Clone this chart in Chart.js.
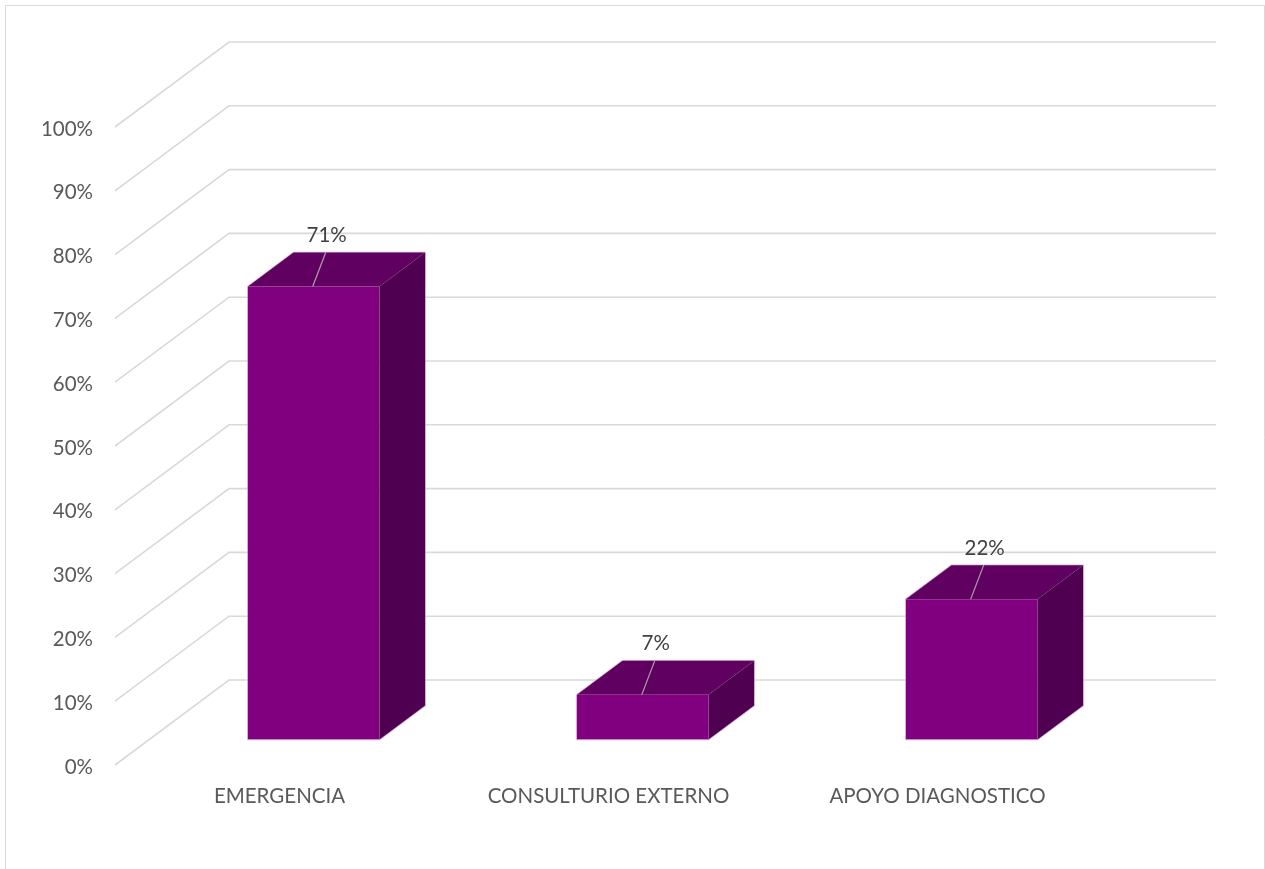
<!DOCTYPE html>
<html>
<head>
<meta charset="utf-8">
<script src="https://cdn.jsdelivr.net/npm/chart.js@4/dist/chart.umd.min.js"></script>
<style>
  html, body { margin: 0; padding: 0; background: #ffffff; overflow: hidden; }
  #wrap { position: relative; width: 1265px; height: 869px; }
</style>
</head>
<body>
<div id="wrap"><canvas id="chart"></canvas></div>
<script>
// Share of cases by service
const categories = ['EMERGENCIA', 'CONSULTURIO EXTERNO', 'APOYO DIAGNOSTICO'];
const percentages = [71, 7, 22];
const valueLabels = ['71%', '7%', '22%'];
const tickValues = [0, 10, 20, 30, 40, 50, 60, 70, 80, 90, 100];

// Oblique projection of the 3-D box: offset from the front plane to the back wall,
// and the depth slab (fractions of that offset) the columns occupy.
const WALL = { dx: 114, dy: -85 };
const SLAB_FRONT = 0.30;
const SLAB_BACK = 0.70;

const COLORS = {
  front: '#800080',
  top: '#600060',
  side: '#500050',
  edge: 'rgba(205, 160, 205, 0.75)',
  grid: '#d9d9d9',
  border: '#d9d9d9',
  tick: '#595959',
  label: '#404040',
  leader: '#a6a6a6'
};
const FONT_FAMILY = 'Lato, "Open Sans", sans-serif';

const frontOff = { x: WALL.dx * SLAB_FRONT, y: WALL.dy * SLAB_FRONT };
const depthOff = { x: WALL.dx * (SLAB_BACK - SLAB_FRONT), y: WALL.dy * (SLAB_BACK - SLAB_FRONT) };

const box3d = {
  id: 'box3d',
  beforeDraw(chart) {
    const { ctx, chartArea, scales } = chart;
    const y = scales.y;
    ctx.save();
    // outer frame
    ctx.strokeStyle = COLORS.border;
    ctx.lineWidth = 1;
    ctx.beginPath();
    ctx.moveTo(5.5, 880);
    ctx.lineTo(5.5, 5.5);
    ctx.lineTo(1264.5, 5.5);
    ctx.lineTo(1264.5, 880);
    ctx.stroke();
    // gridlines: along the side wall, then across the back wall
    ctx.strokeStyle = COLORS.grid;
    ctx.lineWidth = 1.6;
    tickValues.forEach(v => {
      const py = y.getPixelForValue(v);
      ctx.beginPath();
      ctx.moveTo(chartArea.left, py);
      ctx.lineTo(chartArea.left + WALL.dx, py + WALL.dy);
      ctx.lineTo(chartArea.right + WALL.dx, py + WALL.dy);
      ctx.stroke();
    });
    ctx.restore();
  },
  beforeDatasetsDraw(chart) {
    const { ctx } = chart;
    ctx.save();
    ctx.translate(frontOff.x, frontOff.y);
    chart.getDatasetMeta(0).data.forEach(bar => {
      const l = bar.x - bar.width / 2, r = bar.x + bar.width / 2;
      const t = bar.y, b = bar.base;
      // faint light rim around the column's outline
      ctx.strokeStyle = COLORS.edge;
      ctx.lineWidth = 1.5;
      ctx.beginPath();
      ctx.moveTo(l, b);
      ctx.lineTo(l, t);
      ctx.lineTo(l + depthOff.x, t + depthOff.y);
      ctx.lineTo(r + depthOff.x, t + depthOff.y);
      ctx.lineTo(r + depthOff.x, b + depthOff.y);
      ctx.lineTo(r, b);
      ctx.closePath();
      ctx.stroke();
      // top face
      ctx.fillStyle = COLORS.top;
      ctx.beginPath();
      ctx.moveTo(l, t);
      ctx.lineTo(r, t);
      ctx.lineTo(r + depthOff.x, t + depthOff.y);
      ctx.lineTo(l + depthOff.x, t + depthOff.y);
      ctx.closePath();
      ctx.fill();
      // right side face
      ctx.fillStyle = COLORS.side;
      ctx.beginPath();
      ctx.moveTo(r, t);
      ctx.lineTo(r + depthOff.x, t + depthOff.y);
      ctx.lineTo(r + depthOff.x, b + depthOff.y);
      ctx.lineTo(r, b);
      ctx.closePath();
      ctx.fill();
    });
  },
  afterDatasetsDraw(chart) {
    const { ctx } = chart;
    // still translated to the front of the slab: leader lines and value labels
    chart.getDatasetMeta(0).data.forEach((bar, i) => {
      const t = bar.y;
      const x0 = bar.x - 1, y0 = t;
      const x1 = bar.x + 12, y1 = t + depthOff.y;
      ctx.strokeStyle = COLORS.leader;
      ctx.lineWidth = 1.2;
      ctx.beginPath();
      ctx.moveTo(x0, y0);
      ctx.lineTo(x1, y1);
      ctx.stroke();
      ctx.fillStyle = COLORS.label;
      ctx.font = '20.5px ' + FONT_FAMILY;
      ctx.textAlign = 'center';
      ctx.textBaseline = 'middle';
      ctx.fillText(valueLabels[i], x1 + 1, y1 - 17);
    });
    ctx.restore();
  }
};

new Chart(document.getElementById('chart'), {
  type: 'bar',
  data: {
    labels: categories,
    datasets: [{
      data: percentages,
      backgroundColor: COLORS.front,
      borderWidth: 0,
      barPercentage: 0.4,
      categoryPercentage: 1.0
    }]
  },
  options: {
    responsive: true,
    maintainAspectRatio: false,
    animation: false,
    events: [],
    layout: { padding: { left: 0, top: 127, right: 163, bottom: 0 } },
    plugins: { legend: { display: false }, tooltip: { enabled: false }, title: { display: false } },
    scales: {
      x: {
        grid: { display: false, drawTicks: false },
        border: { display: false },
        ticks: { color: COLORS.tick, font: { family: FONT_FAMILY, size: 20.5 }, padding: 19, maxRotation: 0 },
        afterFit(scale) { scale.height = 869 - 765; }
      },
      y: {
        min: 0,
        max: 100,
        grid: { display: false, drawTicks: false },
        border: { display: false },
        afterBuildTicks(scale) { scale.ticks = tickValues.map(v => ({ value: v })); },
        ticks: {
          color: COLORS.tick,
          font: { family: FONT_FAMILY, size: 20.5 },
          padding: 22,
          labelOffset: 2,
          callback: v => v + '%'
        },
        afterFit(scale) { scale.width = 115; }
      }
    }
  },
  plugins: [box3d]
});
</script>
</body>
</html>
